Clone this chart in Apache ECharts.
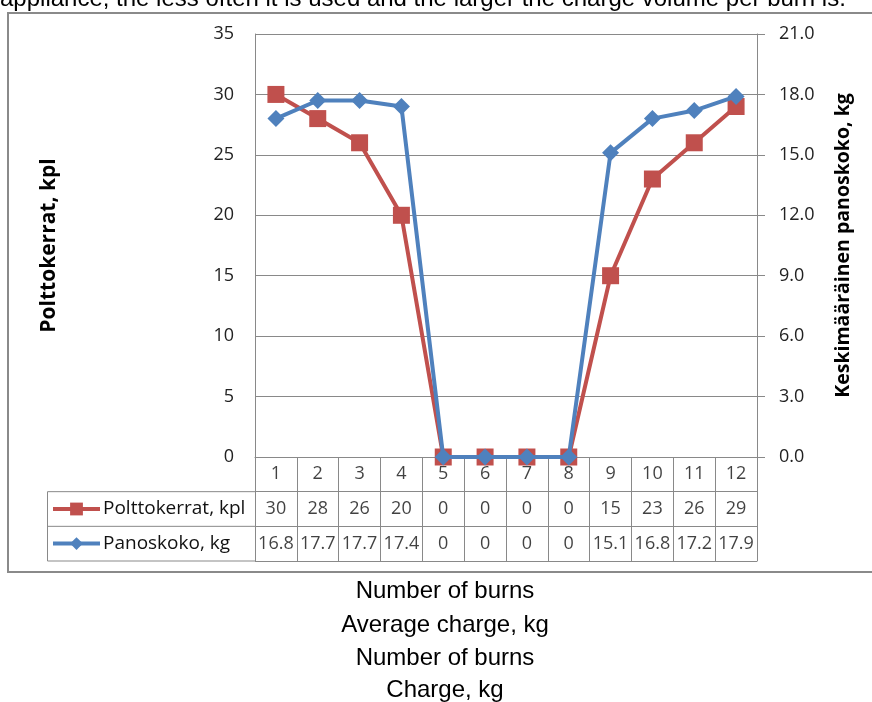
<!DOCTYPE html>
<html>
<head>
<meta charset="utf-8">
<script src="https://cdn.jsdelivr.net/npm/echarts@6/dist/echarts.min.js"></script>
<style>
  html, body { margin: 0; padding: 0; background: #fff; }
  #chart { width: 872px; height: 702px; }
</style>
</head>
<body>
<div id="chart"></div>
<script>
// Months / periods on the category axis
const categories = ['1', '2', '3', '4', '5', '6', '7', '8', '9', '10', '11', '12'];
// Number of burns per period
const burns = [30, 28, 26, 20, 0, 0, 0, 0, 15, 23, 26, 29];
// Average charge per burn, kg
const charge = [16.8, 17.7, 17.7, 17.4, 0, 0, 0, 0, 15.1, 16.8, 17.2, 17.9];
// Text shown in the data table for the charge row
const chargeText = ['16.8', '17.7', '17.7', '17.4', '0', '0', '0', '0', '15.1', '16.8', '17.2', '17.9'];

const burnsName = 'Polttokerrat, kpl';
const chargeName = 'Panoskoko, kg';
const leftAxisName = 'Polttokerrat, kpl';
const rightAxisName = 'Keskimääräinen panoskoko, kg';
const headerText = 'appliance, the less often it is used and the larger the charge volume per burn is.';
const captionLines = ['Number of burns', 'Average charge, kg', 'Number of burns', 'Charge, kg'];

const RED = '#C0504D';
const BLUE = '#4F81BD';
const GRID_LINE = '#898989';
const FONT = '"Open Sans", Lato, sans-serif';
const PROSE = '24px "Liberation Sans", Arial, sans-serif';

// Table cells: row 2.5 = category header, 1.5 = burns, 0.5 = charge
const tableCells = [];
categories.forEach((c, i) => {
  tableCells.push([i, 2.5, c]);
  tableCells.push([i, 1.5, String(burns[i])]);
  tableCells.push([i, 0.5, chargeText[i]]);
});

const chart = echarts.init(document.getElementById('chart'));

const plotLeft = 255, plotRight = 757, plotTop = 34, plotBottom = 457;
const tableBottom = 561, legendLeft = 47;
const rowH = (tableBottom - plotBottom) / 3;

const graphics = [
  // outer chart frame
  { type: 'rect', shape: { x: 8, y: 13, width: 880, height: 559 },
    style: { fill: 'none', stroke: '#8a8a8a', lineWidth: 2 }, silent: true },
  // legend column of the data table
  { type: 'rect', shape: { x: legendLeft + 0.5, y: plotBottom + rowH, width: plotLeft - legendLeft, height: 2 * rowH },
    style: { fill: 'none', stroke: GRID_LINE, lineWidth: 1 }, silent: true },
  { type: 'line', shape: { x1: legendLeft, y1: plotBottom + 2 * rowH, x2: plotLeft, y2: plotBottom + 2 * rowH },
    style: { stroke: GRID_LINE, lineWidth: 1 }, silent: true },
  // heading line above the chart
  { type: 'text', x: 0, y: -1,
    style: { text: headerText, font: PROSE, fill: '#000', textVerticalAlign: 'middle' } }
];
[591, 625, 658, 690].forEach((y, i) => {
  graphics.push({ type: 'text', x: 445, y: y,
    style: { text: captionLines[i], font: PROSE, fill: '#000',
      textAlign: 'center', textVerticalAlign: 'middle' } });
});

const option = {
  animation: false,
  backgroundColor: '#fff',
  textStyle: { fontFamily: FONT },
  graphic: graphics,
  legend: {
    orient: 'vertical',
    left: 51, top: 499, padding: 0,
    itemWidth: 47, itemHeight: 16, itemGap: 14.6,
    lineStyle: { width: 4 },
    textStyle: { fontSize: 19, lineHeight: 20, color: '#111', fontFamily: FONT, padding: [0, 0, 0, -2] },
    data: [burnsName, chargeName]
  },
  grid: [
    { left: plotLeft, right: 872 - plotRight, top: plotTop, height: plotBottom - plotTop, containLabel: false },
    { left: plotLeft, right: 872 - plotRight, top: plotBottom, height: tableBottom - plotBottom, containLabel: false }
  ],
  xAxis: [
    { type: 'category', gridIndex: 0, data: categories, boundaryGap: true,
      axisLine: { show: true, lineStyle: { color: GRID_LINE, width: 1 } },
      axisTick: { show: false }, axisLabel: { show: false } },
    { type: 'category', gridIndex: 1, data: categories, boundaryGap: true,
      axisLine: { show: false }, axisTick: { show: false }, axisLabel: { show: false },
      splitLine: { show: true, interval: 0, lineStyle: { color: GRID_LINE, width: 1 } } }
  ],
  yAxis: [
    { type: 'value', gridIndex: 0, min: 0, max: 35, interval: 5, position: 'left',
      name: leftAxisName, nameLocation: 'middle', nameGap: 195, nameRotate: 90,
      nameTextStyle: { fontSize: 21, fontWeight: 'bold', color: '#000', fontFamily: FONT },
      axisLine: { show: true, lineStyle: { color: GRID_LINE } },
      axisTick: { show: false },
      axisLabel: { fontSize: 18, color: '#222', margin: 21 },
      splitLine: { show: true, lineStyle: { color: GRID_LINE, width: 1 } } },
    { type: 'value', gridIndex: 0, min: 0, max: 21, interval: 3, position: 'right',
      name: rightAxisName, nameLocation: 'middle', nameGap: 76, nameRotate: 90,
      nameTextStyle: { fontSize: 19.5, fontWeight: 'bold', color: '#000', fontFamily: FONT },
      axisLine: { show: true, lineStyle: { color: GRID_LINE } },
      axisTick: { show: true, inside: false, length: 8, lineStyle: { color: GRID_LINE } },
      axisLabel: { fontSize: 18, color: '#222', margin: 22, formatter: v => v.toFixed(1) },
      splitLine: { show: false } },
    { type: 'value', gridIndex: 1, min: 0, max: 3, interval: 1,
      axisLine: { show: true, lineStyle: { color: GRID_LINE } },
      axisTick: { show: false }, axisLabel: { show: false },
      splitLine: { show: true, lineStyle: { color: GRID_LINE, width: 1 } } },
    { type: 'value', gridIndex: 1, min: 0, max: 3, interval: 1, position: 'right',
      axisLine: { show: true, lineStyle: { color: GRID_LINE } },
      axisTick: { show: false }, axisLabel: { show: false }, splitLine: { show: false } }
  ],
  series: [
    { name: burnsName, type: 'line', xAxisIndex: 0, yAxisIndex: 0, data: burns,
      symbol: 'rect', symbolSize: 17, z: 2,
      lineStyle: { color: RED, width: 4 }, itemStyle: { color: RED } },
    { name: chargeName, type: 'line', xAxisIndex: 0, yAxisIndex: 1, data: charge,
      symbol: 'diamond', symbolSize: 17, z: 3,
      lineStyle: { color: BLUE, width: 4 }, itemStyle: { color: BLUE } },
    { name: 'table', type: 'scatter', xAxisIndex: 1, yAxisIndex: 2, data: tableCells,
      symbolSize: 0, silent: true,
      label: { show: true, position: 'inside', fontSize: 18, color: '#111', fontFamily: FONT,
        formatter: p => p.value[2] } }
  ]
};

chart.setOption(option);
</script>
</body>
</html>
